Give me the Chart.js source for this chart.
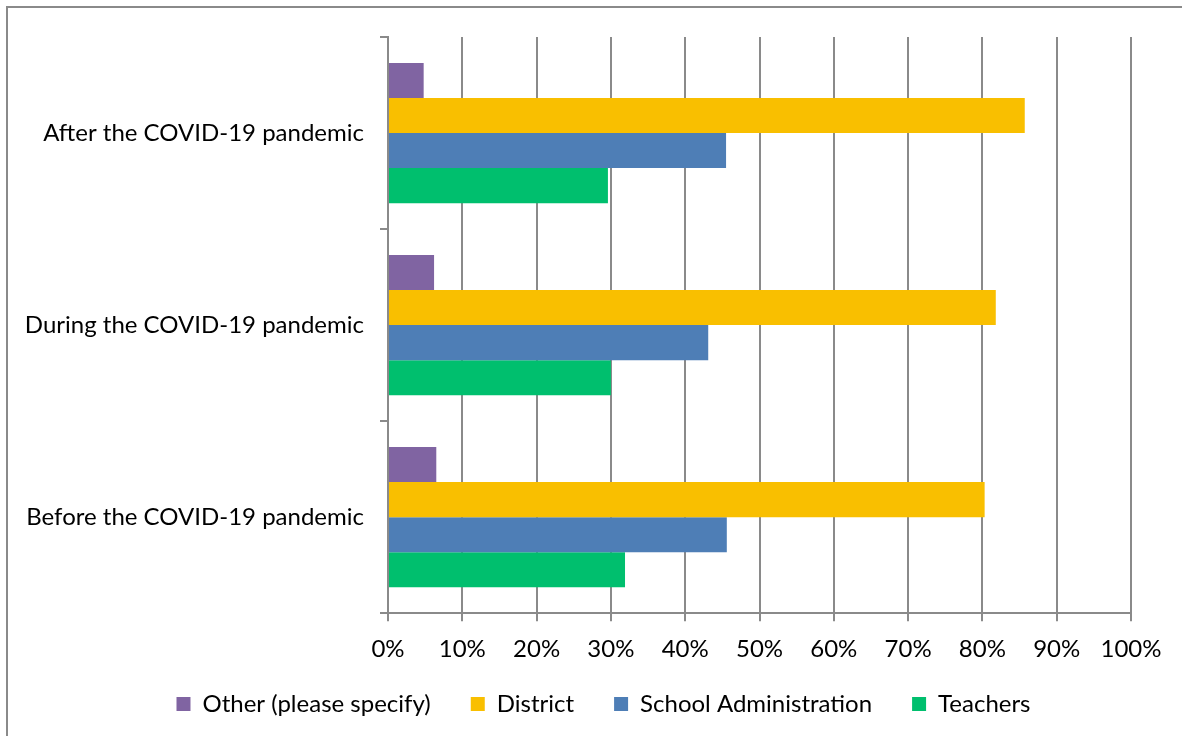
<!DOCTYPE html>
<html>
<head>
<meta charset="utf-8">
<script src="https://cdn.jsdelivr.net/npm/chart.js@4.4.0/dist/chart.umd.min.js"></script>
<style>
html,body{margin:0;padding:0;background:#fff;}
#wrap{width:1182px;height:736px;position:relative;}
</style>
</head>
<body>
<div id="wrap"><canvas id="c" width="1182" height="736"></canvas></div>
<script>
const categories = ["After the COVID-19 pandemic", "During the COVID-19 pandemic", "Before the COVID-19 pandemic"];
const seriesNames = ["Other (please specify)", "District", "School Administration", "Teachers"];
const otherValues = [0.048, 0.062, 0.065];
const districtValues = [0.857, 0.818, 0.803];
const schoolAdminValues = [0.455, 0.431, 0.456];
const teachersValues = [0.296, 0.300, 0.319];
const xTicks = [0, 0.1, 0.2, 0.3, 0.4, 0.5, 0.6, 0.7, 0.8, 0.9, 1.0];

const colors = ["#8064A2", "#F9BF00", "#4E7EB6", "#00BF6E"];
const FONT = "Lato, 'Noto Sans', sans-serif";

const borderPlugin = {
  id: 'outerBorder',
  afterLayout(chart) {
    const lg = chart.legend;
    if (lg) { lg.left += 38; lg.right += 38; }
  },
  afterDraw(chart) {
    const ctx = chart.ctx;
    ctx.save();
    ctx.strokeStyle = '#8a8a8a';
    ctx.lineWidth = 2;
    ctx.strokeRect(7, 7, 1300, 1300);
    ctx.restore();
  }
};

new Chart(document.getElementById('c'), {
  type: 'bar',
  data: {
    labels: categories,
    datasets: [otherValues, districtValues, schoolAdminValues, teachersValues].map((d, i) => ({
      label: seriesNames[i],
      data: d,
      backgroundColor: colors[i],
      borderWidth: 0,
      categoryPercentage: 0.73,
      barPercentage: 1.0
    }))
  },
  options: {
    indexAxis: 'y',
    responsive: false,
    animation: false,
    layout: { padding: { left: 0, right: 51, top: 37, bottom: 10 } },
    plugins: {
      tooltip: { enabled: false },
      legend: {
        position: 'bottom',
        title: { display: true, text: '', font: { size: 10, lineHeight: 1 }, padding: { top: -36, bottom: 0 } },
        labels: {
          boxWidth: 14, boxHeight: 14, padding: 40,
          color: '#000',
          font: { family: FONT, size: 24 }
        }
      }
    },
    scales: {
      x: {
        min: 0, max: 1,
        afterBuildTicks(scale) { scale.ticks = xTicks.map(v => ({ value: v })); },
        ticks: {
          color: '#000',
          font: { family: FONT, size: 24 },
          padding: 14,
          callback: v => Math.round(v * 100) + '%'
        },
        grid: { color: '#8a8a8a', lineWidth: 2, tickLength: 8 },
        border: { color: '#8a8a8a', width: 2 }
      },
      y: {
        afterFit(scale) { scale.width = 388; },
        ticks: {
          color: '#000',
          font: { family: FONT, size: 24 },
          padding: 16
        },
        grid: { display: true, drawOnChartArea: false, color: '#8a8a8a', lineWidth: 2, tickLength: 8, offset: true },
        border: { color: '#8a8a8a', width: 2 }
      }
    }
  },
  plugins: [borderPlugin]
});
</script>
</body>
</html>
